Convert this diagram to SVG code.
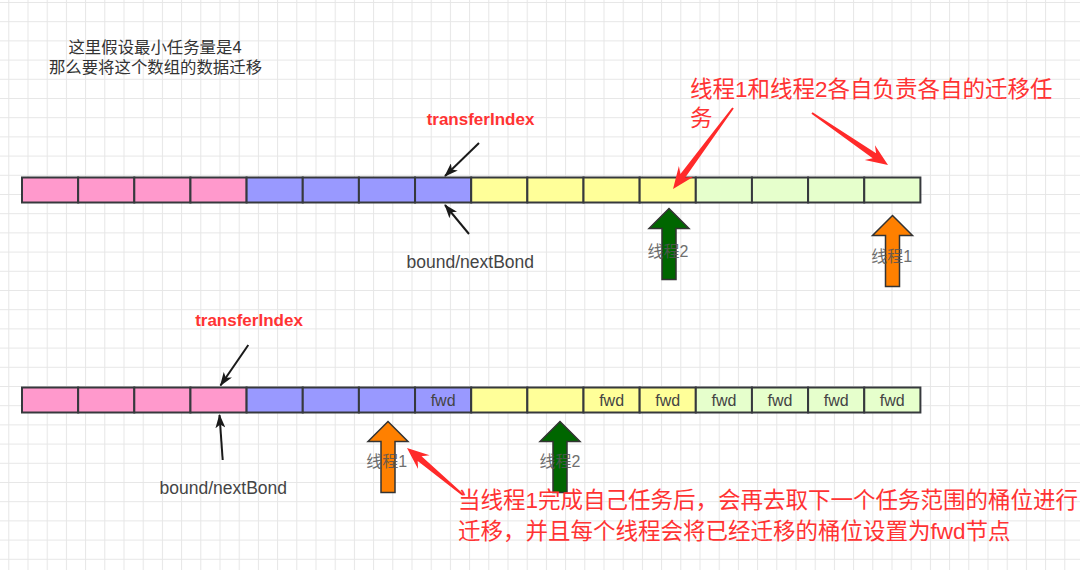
<svg xmlns="http://www.w3.org/2000/svg" width="1080" height="570" viewBox="0 0 1080 570">
<style>
.cell{stroke:#36393d;stroke-width:2}
.pk{fill:#FF99CC}.bl{fill:#9999FF}.ye{fill:#FFFF99}.gr{fill:#E6FFCC}
text{font-family:"Liberation Sans","Noto Sans CJK SC",sans-serif;dominant-baseline:central}
.note{font-size:16.4px;fill:#333;text-anchor:middle}
.red{font-size:22.5px;fill:#FF3333}
.ti{font-size:17px;font-weight:bold;fill:#FF3333;text-anchor:middle}
.bound{font-size:17.5px;fill:#444;text-anchor:middle}
.thr{font-size:16px;fill:#555;text-anchor:middle;opacity:0.85}
.fwd{font-size:16px;fill:#444;text-anchor:middle}
.blk{stroke:#1a1a1a;stroke-width:2;fill:none;marker-end:url(#ah)}
.redarrow{fill:#FF2A2A}
.up{stroke:#333;stroke-width:1.5}
</style>
<defs>
<pattern id="grid" patternUnits="userSpaceOnUse" x="8.3" y="2" width="19.2" height="19.2">
<path d="M0,0.5 H19.2 M0.5,0 V19.2" stroke="#e6e6e6" stroke-width="1" fill="none"/>
</pattern>
<marker id="ah" markerUnits="userSpaceOnUse" viewBox="0 0 14 10" refX="13" refY="5" markerWidth="14" markerHeight="10" orient="auto">
<path d="M0,0 L14,5 L0,10 L3.5,5 Z" fill="#1a1a1a"/>
</marker>
<path id="uparrow" d="M0,0 L20,20 L7,20 L7,71 L-7,71 L-7,20 L-20,20 Z"/>
</defs>
<rect width="1080" height="570" fill="#ffffff"/>
<rect width="1080" height="570" fill="url(#grid)"/>

<g id="note">
<text class="note" x="155" y="46.5">这里假设最小任务量是4</text>
<text class="note" x="155.5" y="67">那么要将这个数组的数据迁移</text>
</g>

<g id="array1">
<rect class="cell pk" x="22" y="177.5" width="56.15" height="25"/>
<rect class="cell pk" x="78.15" y="177.5" width="56.15" height="25"/>
<rect class="cell pk" x="134.3" y="177.5" width="56.15" height="25"/>
<rect class="cell pk" x="190.45" y="177.5" width="56.15" height="25"/>
<rect class="cell bl" x="246.6" y="177.5" width="56.15" height="25"/>
<rect class="cell bl" x="302.75" y="177.5" width="56.15" height="25"/>
<rect class="cell bl" x="358.9" y="177.5" width="56.15" height="25"/>
<rect class="cell bl" x="415.05" y="177.5" width="56.15" height="25"/>
<rect class="cell ye" x="471.2" y="177.5" width="56.15" height="25"/>
<rect class="cell ye" x="527.35" y="177.5" width="56.15" height="25"/>
<rect class="cell ye" x="583.5" y="177.5" width="56.15" height="25"/>
<rect class="cell ye" x="639.65" y="177.5" width="56.15" height="25"/>
<rect class="cell gr" x="695.8" y="177.5" width="56.15" height="25"/>
<rect class="cell gr" x="751.95" y="177.5" width="56.15" height="25"/>
<rect class="cell gr" x="808.1" y="177.5" width="56.15" height="25"/>
<rect class="cell gr" x="864.25" y="177.5" width="56.15" height="25"/>
</g>

<g id="array2">
<rect class="cell pk" x="22" y="387.5" width="56.15" height="25"/>
<rect class="cell pk" x="78.15" y="387.5" width="56.15" height="25"/>
<rect class="cell pk" x="134.3" y="387.5" width="56.15" height="25"/>
<rect class="cell pk" x="190.45" y="387.5" width="56.15" height="25"/>
<rect class="cell bl" x="246.6" y="387.5" width="56.15" height="25"/>
<rect class="cell bl" x="302.75" y="387.5" width="56.15" height="25"/>
<rect class="cell bl" x="358.9" y="387.5" width="56.15" height="25"/>
<rect class="cell bl" x="415.05" y="387.5" width="56.15" height="25"/>
<rect class="cell ye" x="471.2" y="387.5" width="56.15" height="25"/>
<rect class="cell ye" x="527.35" y="387.5" width="56.15" height="25"/>
<rect class="cell ye" x="583.5" y="387.5" width="56.15" height="25"/>
<rect class="cell ye" x="639.65" y="387.5" width="56.15" height="25"/>
<rect class="cell gr" x="695.8" y="387.5" width="56.15" height="25"/>
<rect class="cell gr" x="751.95" y="387.5" width="56.15" height="25"/>
<rect class="cell gr" x="808.1" y="387.5" width="56.15" height="25"/>
<rect class="cell gr" x="864.25" y="387.5" width="56.15" height="25"/>
<text class="fwd" x="443.1" y="400">fwd</text>
<text class="fwd" x="611.6" y="400">fwd</text>
<text class="fwd" x="667.7" y="400">fwd</text>
<text class="fwd" x="723.9" y="400">fwd</text>
<text class="fwd" x="780" y="400">fwd</text>
<text class="fwd" x="836.2" y="400">fwd</text>
<text class="fwd" x="892.3" y="400">fwd</text>
</g>

<g id="labels1">
<text class="ti" x="480.5" y="119">transferIndex</text>
<text class="bound" x="470.3" y="262.3">bound/nextBond</text>
</g>
<g id="labels2">
<text class="ti" x="249" y="320.7">transferIndex</text>
<text class="bound" x="223.3" y="488.3">bound/nextBond</text>
</g>

<g id="thread2-row1">
<use href="#uparrow" class="up" transform="translate(669,208.5)" fill="#006600"/>
<text class="thr" x="668" y="251">线程2</text>
</g>
<g id="thread1-row1">
<use href="#uparrow" class="up" transform="translate(892.5,215.5)" fill="#FF8000"/>
<text class="thr" x="891.7" y="256">线程1</text>
</g>
<g id="thread1-row2">
<use href="#uparrow" class="up" transform="translate(388,421.5)" fill="#FF8000"/>
<text class="thr" x="386.7" y="461.7">线程1</text>
</g>
<g id="thread2-row2">
<use href="#uparrow" class="up" transform="translate(560,421.5)" fill="#006600"/>
<text class="thr" x="560" y="461.7">线程2</text>
</g>

<g id="note-top">
<text class="red" x="690" y="89.5">线程1和线程2各自负责各自的迁移任</text>
<text class="red" x="690" y="118.3">务</text>
</g>
<g id="note-bottom">
<text class="red" x="458" y="500">当线程1完成自己任务后，会再去取下一个任务范围的桶位进行</text>
<text class="red" x="458" y="531">迁移，并且每个线程会将已经迁移的桶位设置为fwd节点</text>
</g>

<g id="connectors">
<path class="blk" d="M479,143 L445,176"/>
<path class="blk" d="M469,234 L445,205"/>
<path class="blk" d="M248.3,345 L220.5,385.5"/>
<path class="blk" d="M222.7,460 L219.5,415"/>
<path class="redarrow" transform="translate(733,108) rotate(126.5)" d="M0,-1 L84.3,-3 L78.8,-9 L100.8,0 L78.8,9 L84.3,3 L0,1 Z"/>
<path class="redarrow" transform="translate(812,113) rotate(34.4)" d="M0,-1 L75.6,-3 L70.1,-9 L92.1,0 L70.1,9 L75.6,3 L0,1 Z"/>
<path class="redarrow" transform="translate(463,495) rotate(-140)" d="M0,-1 L56.6,-3 L51.1,-9 L73.1,0 L51.1,9 L56.6,3 L0,1 Z"/>
</g>
</svg>
